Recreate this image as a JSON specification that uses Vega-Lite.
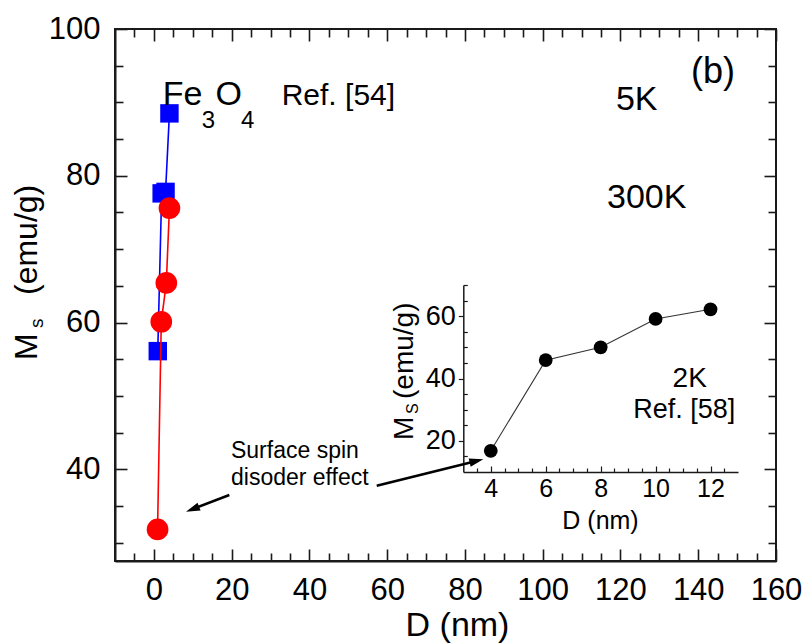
{
  "$schema": "https://vega.github.io/schema/vega-lite/v6.json",
  "width": 661,
  "height": 532,
  "autosize": "none",
  "padding": {"left": 115, "top": 29, "right": 33, "bottom": 83},
  "background": "white",
  "config": {
    "view": {"stroke": "#1a1a1a", "strokeWidth": 2},
    "axis": {"labelFont": "Liberation Sans", "titleFont": "Liberation Sans", "labelColor": "#000", "titleColor": "#000", "domainColor": "#1a1a1a", "tickColor": "#1a1a1a", "grid": false, "titleFontWeight": "normal", "labelOverlap": false, "labelFlush": false},
    "text": {"font": "Liberation Sans", "color": "#000"}
  },
  "datasets": {
    "blue": [{"D": 1.0, "Ms": 56.1}, {"D": 2.0, "Ms": 77.6}, {"D": 3.0, "Ms": 77.8}, {"D": 4.0, "Ms": 88.5}],
    "red": [{"D": 0.95, "Ms": 31.8}, {"D": 1.9, "Ms": 60.1}, {"D": 3.2, "Ms": 65.4}, {"D": 4.0, "Ms": 75.6}],
    "inset": [{"D": 4, "Ms": 16.8}, {"D": 6, "Ms": 45.9}, {"D": 8, "Ms": 50.0}, {"D": 10, "Ms": 59.1}, {"D": 12, "Ms": 62.2}],
    "dummy": [{"D": 0, "Ms": 50}],
    "dummyInset": [{"D": 5, "Ms": 40}]
  },
  "resolve": {"scale": {"x": "independent", "y": "independent"}},
  "layer": [
    {
      "encoding": {
        "x": {"field": "D", "type": "quantitative", "scale": {"domain": [-10, 160], "nice": false, "zero": false},
          "axis": {"orient": "bottom", "values": [0,20,40,60,80,100,120,140,160], "format": "d",
            "labelFontSize": 31, "labelPadding": 14, "ticks": false, "domainWidth": 2,
            "title": "D (nm)", "titleFontSize": 34, "titleX": 342, "titleY": 74, "titleAlign": "center", "titleBaseline": "alphabetic"}},
        "y": {"field": "Ms", "type": "quantitative", "scale": {"domain": [27.5, 100], "nice": false, "zero": false},
          "axis": {"orient": "left", "values": [40,60,80,100], "format": "d",
            "labelFontSize": 31, "labelPadding": 15, "ticks": false, "domainWidth": 2, "title": null}}
      },
      "layer": [
        {"data": {"name": "blue"}, "mark": {"type": "line", "color": "#0000ff", "strokeWidth": 1.6}},
        {"data": {"name": "blue"}, "mark": {"type": "point", "shape": "square", "filled": true, "size": 340, "color": "#0000ff", "opacity": 1}},
        {"data": {"name": "red"}, "mark": {"type": "line", "color": "#ff0000", "strokeWidth": 1.6}},
        {"data": {"name": "red"}, "mark": {"type": "point", "shape": "circle", "filled": true, "size": 470, "color": "#ff0000", "opacity": 1}},
        {"data": {"values": [{"D": 19.40, "Ms": 36.49, "D2": 9.70, "Ms2": 34.52}, {"D": 57.31, "Ms": 37.76, "D2": 83.23, "Ms2": 41.17}]},
          "mark": {"type": "rule", "strokeWidth": 2.5, "color": "#000"},
          "encoding": {"x2": {"field": "D2"}, "y2": {"field": "Ms2"}}},
        {"data": {"values": [{"D": 8.26, "Ms": 34.22}]}, "mark": {"type": "point", "shape": "M0,0L-0.6,2L0.6,2Z", "size": 196, "angle": 248.9, "filled": true, "color": "#000", "opacity": 1}},
        {"data": {"values": [{"D": 84.72, "Ms": 41.36}]}, "mark": {"type": "point", "shape": "M0,0L-0.6,2L0.6,2Z", "size": 196, "angle": 76.1, "filled": true, "color": "#000", "opacity": 1}},
        {"data": {"values": [{"D": 143.8, "Ms": 92.64, "t": "(b)"}]}, "mark": {"type": "text", "fontSize": 36, "align": "center", "baseline": "alphabetic"}, "encoding": {"text": {"field": "t"}}},
        {"data": {"values": [{"D": 2.27, "Ms": 89.64, "t": "Fe"}, {"D": 15.85, "Ms": 89.64, "t": "O"}]}, "mark": {"type": "text", "fontSize": 34, "align": "left", "baseline": "alphabetic"}, "encoding": {"text": {"field": "t"}}},
        {"data": {"values": [{"D": 12.30, "Ms": 86.51, "t": "3"}, {"D": 22.4, "Ms": 86.51, "t": "4"}]}, "mark": {"type": "text", "fontSize": 24, "align": "left", "baseline": "alphabetic"}, "encoding": {"text": {"field": "t"}}},
        {"data": {"values": [{"D": 32.87, "Ms": 89.64, "t": "Ref. [54]"}]}, "mark": {"type": "text", "fontSize": 30, "align": "left", "baseline": "alphabetic"}, "encoding": {"text": {"field": "t"}}},
        {"data": {"values": [{"D": 124.17, "Ms": 88.96, "t": "5K"}, {"D": 126.75, "Ms": 75.56, "t": "300K"}]}, "mark": {"type": "text", "fontSize": 34, "align": "center", "baseline": "alphabetic"}, "encoding": {"text": {"field": "t"}}},
        {"data": {"values": [{"D": 19.83, "Ms": 41.50, "t": "Surface spin"}, {"D": 19.83, "Ms": 37.86, "t": "disoder effect"}]}, "mark": {"type": "text", "fontSize": 23, "align": "left", "baseline": "alphabetic"}, "encoding": {"text": {"field": "t"}}},
        {"data": {"values": [{"D": 137.81, "Ms": 51.25, "t": "2K"}]}, "mark": {"type": "text", "fontSize": 28, "align": "center", "baseline": "alphabetic"}, "encoding": {"text": {"field": "t"}}},
        {"data": {"values": [{"D": 123.30, "Ms": 46.95, "t": "Ref. [58]"}]}, "mark": {"type": "text", "fontSize": 27, "align": "left", "baseline": "alphabetic"}, "encoding": {"text": {"field": "t"}}},
        {"data": {"values": [{"D": -30.14, "Ms": 54.89, "t": "M"}, {"D": -30.14, "Ms": 63.75, "t": "(emu/g)"}]}, "mark": {"type": "text", "fontSize": 32, "align": "left", "baseline": "alphabetic", "angle": 270}, "encoding": {"text": {"field": "t"}}},
        {"data": {"values": [{"D": -28.39, "Ms": 59.25, "t": "s"}]}, "mark": {"type": "text", "fontSize": 19, "align": "left", "baseline": "alphabetic", "angle": 270}, "encoding": {"text": {"field": "t"}}}
      ]
    },
    {
      "data": {"name": "dummy"},
      "mark": {"type": "point", "opacity": 0},
      "encoding": {
        "x": {"field": "D", "type": "quantitative", "scale": {"domain": [-10, 160], "nice": false, "zero": false},
          "axis": {"orient": "top", "offset": -532, "values": [0,20,40,60,80,100,120,140,160], "labels": false, "domain": false, "tickSize": 12, "tickWidth": 1.6, "title": null}},
        "y": {"field": "Ms", "type": "quantitative", "scale": {"domain": [27.5, 100], "nice": false, "zero": false},
          "axis": {"orient": "right", "offset": -661, "values": [40,60,80,100], "labels": false, "domain": false, "tickSize": 12, "tickWidth": 1.6, "title": null}}
      }
    },
    {
      "data": {"name": "dummy"},
      "mark": {"type": "point", "opacity": 0},
      "encoding": {
        "x": {"field": "D", "type": "quantitative", "scale": {"domain": [-10, 160], "nice": false, "zero": false},
          "axis": {"orient": "bottom", "offset": -532, "values": [0,20,40,60,80,100,120,140,160], "labels": false, "domain": false, "tickSize": 12, "tickWidth": 1.6, "title": null}},
        "y": {"field": "Ms", "type": "quantitative", "scale": {"domain": [27.5, 100], "nice": false, "zero": false},
          "axis": {"orient": "left", "offset": -661, "values": [40,60,80,100], "labels": false, "domain": false, "tickSize": 12, "tickWidth": 1.6, "title": null}}
      }
    },
    {
      "data": {"name": "dummy"},
      "mark": {"type": "point", "opacity": 0},
      "encoding": {
        "x": {"field": "D", "type": "quantitative", "scale": {"domain": [-10, 160], "nice": false, "zero": false},
          "axis": {"orient": "top", "offset": -532, "values": [-5,5,10,15,25,30,35,45,50,55,65,70,75,85,90,95,105,110,115,125,130,135,145,150,155], "labels": false, "domain": false, "tickSize": 8, "tickWidth": 1.6, "title": null}},
        "y": {"field": "Ms", "type": "quantitative", "scale": {"domain": [27.5, 100], "nice": false, "zero": false},
          "axis": {"orient": "right", "offset": -661, "values": [30,35,45,50,55,65,70,75,85,90,95], "labels": false, "domain": false, "tickSize": 8, "tickWidth": 1.6, "title": null}}
      }
    },
    {
      "data": {"name": "dummy"},
      "mark": {"type": "point", "opacity": 0},
      "encoding": {
        "x": {"field": "D", "type": "quantitative", "scale": {"domain": [-10, 160], "nice": false, "zero": false},
          "axis": {"orient": "bottom", "offset": -532, "values": [-5,5,10,15,25,30,35,45,50,55,65,70,75,85,90,95,105,110,115,125,130,135,145,150,155], "labels": false, "domain": false, "tickSize": 8, "tickWidth": 1.6, "title": null}},
        "y": {"field": "Ms", "type": "quantitative", "scale": {"domain": [27.5, 100], "nice": false, "zero": false},
          "axis": {"orient": "left", "offset": -661, "values": [30,35,45,50,55,65,70,75,85,90,95], "labels": false, "domain": false, "tickSize": 8, "tickWidth": 1.6, "title": null}}
      }
    },
    {
      "encoding": {
        "x": {"field": "D", "type": "quantitative", "scale": {"domain": [3, 13], "range": [348.3, 623], "nice": false, "zero": false},
          "axis": {"orient": "bottom", "offset": -89, "values": [4,6,8,10,12], "format": "d",
            "labelFontSize": 25, "labelPadding": 4, "ticks": false, "domainWidth": 1.5,
            "title": "D (nm)", "titleFontSize": 25, "titleX": 485, "titleY": 56, "titleAlign": "center", "titleBaseline": "alphabetic"}},
        "y": {"field": "Ms", "type": "quantitative", "scale": {"domain": [10, 70], "range": [443, 256], "nice": false, "zero": false},
          "axis": {"orient": "left", "offset": -348.3, "values": [20,40,60], "format": "d",
            "labelFontSize": 27, "labelPadding": 3, "tickSize": 5, "tickWidth": 1.2, "domainWidth": 1.5, "title": null}}
      },
      "layer": [
        {"data": {"name": "inset"}, "mark": {"type": "line", "color": "#333", "strokeWidth": 1.1}},
        {"data": {"name": "inset"}, "mark": {"type": "point", "shape": "circle", "filled": true, "size": 190, "color": "#000", "opacity": 1}},
        {"data": {"values": [{"D": 1.169, "Ms": 20.27, "t": "M"}, {"D": 1.169, "Ms": 33.42, "t": "(emu/g)"}]}, "mark": {"type": "text", "fontSize": 28, "align": "left", "baseline": "alphabetic", "angle": 270}, "encoding": {"text": {"field": "t"}}},
        {"data": {"values": [{"D": 1.351, "Ms": 28.61, "t": "S"}]}, "mark": {"type": "text", "fontSize": 16, "align": "left", "baseline": "alphabetic", "angle": 270}, "encoding": {"text": {"field": "t"}}}
      ]
    },
    {
      "data": {"name": "dummyInset"},
      "mark": {"type": "point", "opacity": 0},
      "encoding": {
        "x": {"field": "D", "type": "quantitative", "scale": {"domain": [3, 13], "range": [348.3, 623], "nice": false, "zero": false},
          "axis": {"orient": "top", "offset": -443, "values": [4,6,8,10,12], "labels": false, "domain": false, "tickSize": 6, "tickWidth": 1.2, "title": null}},
        "y": {"field": "Ms", "type": "quantitative", "scale": {"domain": [10, 70], "range": [443, 256], "nice": false, "zero": false},
          "axis": {"orient": "right", "offset": -312.7, "values": [15,25,30,35,45,50,55,65,70], "labels": false, "domain": false, "tickSize": 4, "tickWidth": 1.2, "title": null}}
      }
    },
    {
      "data": {"name": "dummyInset"},
      "mark": {"type": "point", "opacity": 0},
      "encoding": {
        "x": {"field": "D", "type": "quantitative", "scale": {"domain": [3, 13], "range": [348.3, 623], "nice": false, "zero": false},
          "axis": {"orient": "top", "offset": -443, "values": [3.5,4.5,5,5.5,6.5,7,7.5,8.5,9,9.5,10.5,11,11.5,12.5], "labels": false, "domain": false, "tickSize": 4, "tickWidth": 1.2, "title": null}},
        "y": {"field": "Ms", "type": "quantitative", "scale": {"domain": [10, 70], "range": [443, 256], "nice": false, "zero": false},
          "axis": null}
      }
    }
  ]
}
